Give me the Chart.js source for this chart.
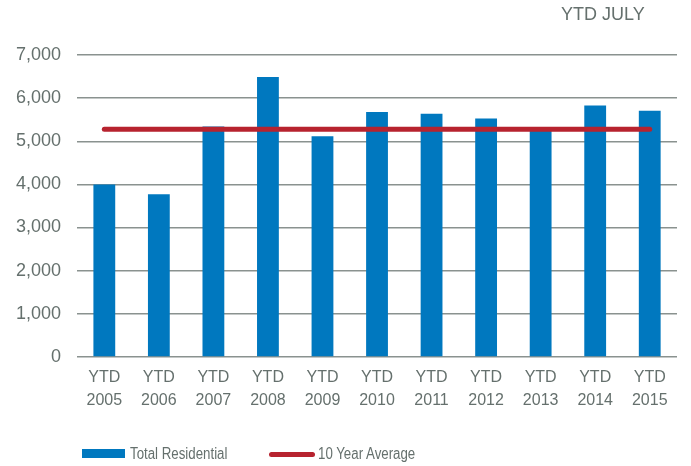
<!DOCTYPE html>
<html>
<head>
<meta charset="utf-8">
<script src="https://cdn.jsdelivr.net/npm/chart.js@4"></script>
<style>
  body { margin: 0; background: #fff; font-family: "Liberation Sans", Arial, sans-serif; }
  #wrap { position: relative; width: 691px; height: 466px; }
  #title { position: absolute; left: 561px; top: 4px; font-size: 18px; color: #65706d; }
  #legend { position: absolute; left: 0; top: 0; font-size: 16px; color: #65706d; }
  .sw { position: absolute; }
  .txt { position: absolute; white-space: nowrap; line-height: 20px; transform: scaleX(0.83); transform-origin: left center; }
</style>
</head>
<body>
<div id="wrap">
  <canvas id="myChart" width="691" height="466"></canvas>
  <div id="title">YTD JULY</div>
  <div id="legend">
    <span class="sw" style="left:82px;top:449px;width:43px;height:9px;background:#0078bf"></span>
    <span class="txt" style="left:130px;top:444px">Total Residential</span>
    <span class="sw" style="left:269px;top:452px;width:46px;height:5px;border-radius:3px;background:#b7232f"></span>
    <span class="txt" style="left:318px;top:444px">10 Year Average</span>
  </div>
</div>
<script>
var labels = [['YTD', '2005'], ['YTD', '2006'], ['YTD', '2007'], ['YTD', '2008'], ['YTD', '2009'], ['YTD', '2010'],
              ['YTD', '2011'], ['YTD', '2012'], ['YTD', '2013'], ['YTD', '2014'], ['YTD', '2015']];
var totalResidential = [4000, 3770, 5340, 6490, 5115, 5680, 5635, 5530, 5250, 5830, 5710];
var tenYearAverage = [5280, 5280, 5280, 5280, 5280, 5280, 5280, 5280, 5280, 5280, 5280];

var ctx = document.getElementById('myChart').getContext('2d');
var myChart = new Chart(ctx, {
    type: 'bar',
    data: {
        labels: labels,
        datasets: [{
            type: 'line',
            label: '10 Year Average',
            data: tenYearAverage,
            borderColor: '#b7232f',
            borderWidth: 5,
            borderCapStyle: 'round',
            pointRadius: 0,
            order: 0
        }, {
            label: 'Total Residential',
            data: totalResidential,
            backgroundColor: '#0078bf',
            categoryPercentage: 1,
            barPercentage: 0.4,
            order: 1
        }]
    },
    options: {
        responsive: false,
        animation: false,
        layout: {
            padding: { left: 0, right: 14, top: 55, bottom: 53 }
        },
        plugins: {
            legend: { display: false },
            tooltip: { enabled: false }
        },
        scales: {
            x: {
                grid: { display: false },
                border: { display: false },
                ticks: {
                    color: '#65706d',
                    font: { family: 'Liberation Sans', size: 16, lineHeight: 1.44 },
                    padding: 1,
                    maxRotation: 0
                }
            },
            y: {
                min: 0,
                max: 7000,
                border: { display: false },
                grid: { color: '#8a928f', lineWidth: 1.5, drawTicks: false },
                ticks: {
                    stepSize: 1000,
                    color: '#65706d',
                    font: { family: 'Liberation Sans', size: 18 },
                    padding: 16
                }
            }
        }
    }
});
</script>
</body>
</html>
